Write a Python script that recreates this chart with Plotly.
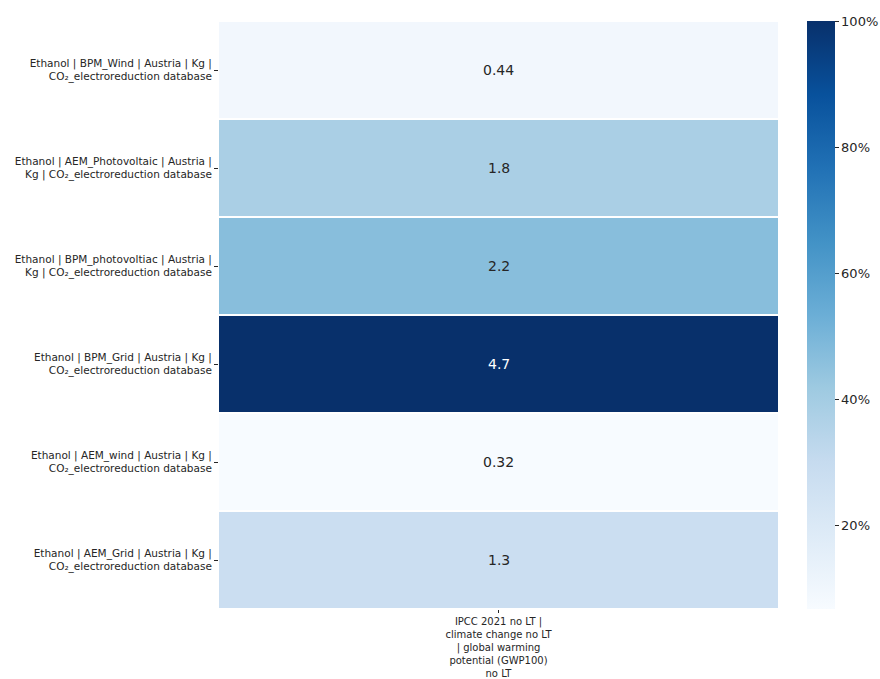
import plotly.graph_objects as go

# Scenario rows (top to bottom) and the single impact category column
rows = [
    "Ethanol | BPM_Wind | Austria | Kg |<br>CO₂_electroreduction database",
    "Ethanol | AEM_Photovoltaic | Austria |<br>Kg | CO₂_electroreduction database",
    "Ethanol | BPM_photovoltiac | Austria |<br>Kg | CO₂_electroreduction database",
    "Ethanol | BPM_Grid | Austria | Kg |<br>CO₂_electroreduction database",
    "Ethanol | AEM_wind | Austria | Kg |<br>CO₂_electroreduction database",
    "Ethanol | AEM_Grid | Austria | Kg |<br>CO₂_electroreduction database",
]
columns = [
    "IPCC 2021 no LT |<br>climate change no LT<br>| global warming<br>potential (GWP100)<br>no LT"
]
gwp_values = [0.44, 1.8, 2.2, 4.7, 0.32, 1.3]

# Colour each cell by its share of the largest score
max_val = max(gwp_values)
pct = [v / max_val * 100 for v in gwp_values]

blues = [
    [0.0, "rgb(247,251,255)"], [0.125, "rgb(222,235,247)"],
    [0.25, "rgb(198,219,239)"], [0.375, "rgb(158,202,225)"],
    [0.5, "rgb(107,174,214)"], [0.625, "rgb(66,146,198)"],
    [0.75, "rgb(33,113,181)"], [0.875, "rgb(8,81,156)"],
    [1.0, "rgb(8,48,107)"],
]

fig = go.Figure(
    go.Heatmap(
        z=[[p] for p in pct],
        x=columns,
        y=rows,
        colorscale=blues,
        zmin=min(pct),
        zmax=100,
        ygap=2,
        xgap=0,
        hoverinfo="skip",
        colorbar=dict(
            thickness=28,
            len=1.0,
            lenmode="fraction",
            y=0.5,
            yanchor="middle",
            ypad=0,
            x=1.052,
            xanchor="left",
            xpad=0,
            outlinewidth=0,
            tickvals=[20, 40, 60, 80, 100],
            ticktext=["20%", "40%", "60%", "80%", "100%"],
            ticks="outside",
            ticklen=4,
            tickcolor="#262626",
            tickfont=dict(family="DejaVu Sans", size=13, color="#262626"),
        ),
    )
)

# Value labels in each cell, white on dark cells
for r, v, p in zip(rows, gwp_values, pct):
    fig.add_annotation(
        x=columns[0], y=r, text=f"{v:g}", showarrow=False,
        font=dict(family="DejaVu Sans", size=14,
                  color="white" if p > 60 else "#262626"),
    )

fig.update_yaxes(
    autorange="reversed", automargin=False,
    ticks="outside", ticklen=4, tickcolor="#262626",
    tickfont=dict(family="DejaVu Sans", size=10.5, color="#262626"),
    showgrid=False, zeroline=False, showline=False,
)
fig.update_xaxes(
    automargin=False,
    ticks="outside", ticklen=3, tickcolor="#262626",
    tickfont=dict(family="DejaVu Sans", size=10, color="#262626"),
    showgrid=False, zeroline=False, showline=False,
)

fig.update_layout(
    width=880, height=679,
    margin=dict(l=219, r=102, t=21, b=70, autoexpand=False),
    plot_bgcolor="white",
    paper_bgcolor="white",
    showlegend=False,
)

fig.write_html("out.html")
